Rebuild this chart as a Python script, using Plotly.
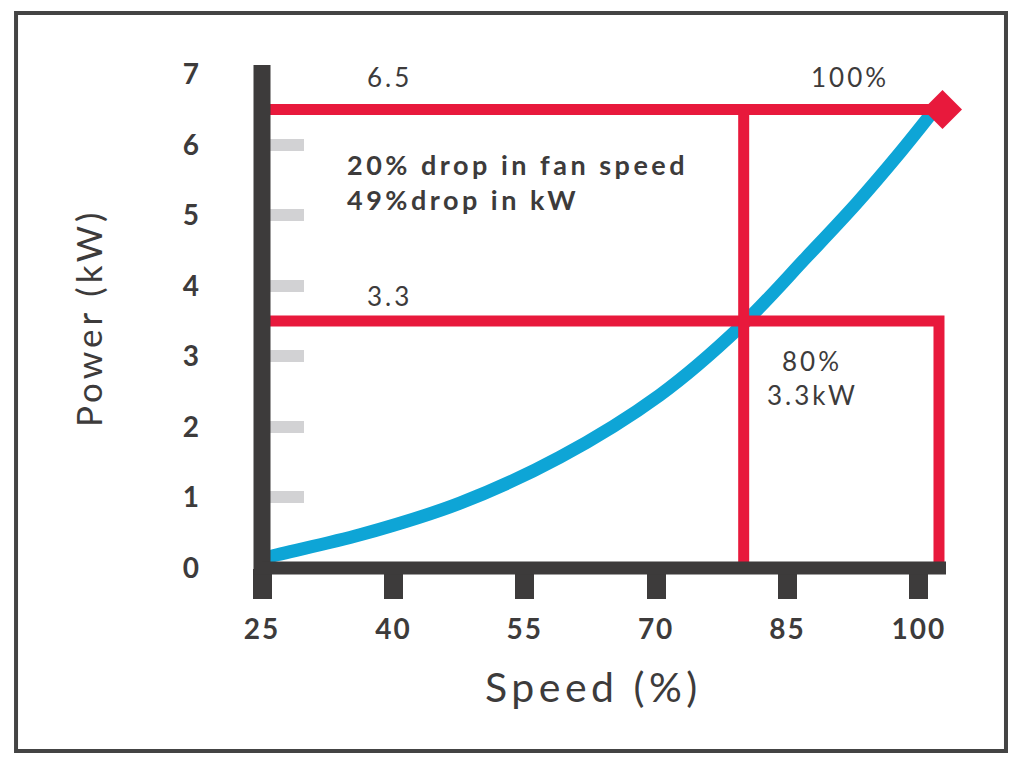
import plotly.graph_objects as go

# fan speed (%) vs power (kW) curve
speed = [25.0, 25.9, 36.2, 47.6, 59.0, 70.4, 79.6, 87.2, 92.9, 97.8, 101.3]
power = [0.12, 0.16, 0.47, 0.92, 1.57, 2.45, 3.42, 4.41, 5.17, 5.88, 6.42]

x_ticks = [25, 40, 55, 70, 85, 100]
y_ticks = [0, 1, 2, 3, 4, 5, 6, 7]
y_minor = [1, 2, 3, 4, 5, 6]

full_power = 6.5      # red line at the top
reduced_power = 3.5   # red line through the 80% point (labelled 3.3)
reduced_speed = 80
full_speed = 102.3    # right red line, drawn a bit past 100
arrow_speed = 102.7

red = '#E8193C'
blue = '#0EA5D6'
dark = '#3D3B3B'
font = 'Lato'


def spaced(text, px):
    return f'<span style="letter-spacing:{px}px">{text}</span>'


fig = go.Figure()

fig.add_trace(go.Scatter(x=speed, y=power, mode='lines', line_shape='spline',
                         line=dict(color=blue, width=13), hoverinfo='skip'))

# red guide lines
fig.add_trace(go.Scatter(
    x=[x_ticks[0], full_speed, None, x_ticks[0], full_speed, full_speed, None, reduced_speed, reduced_speed],
    y=[full_power, full_power, None, reduced_power, reduced_power, 0, None, 0, full_power],
    mode='lines', line=dict(color=red, width=11), hoverinfo='skip'))
fig.add_trace(go.Scatter(x=[arrow_speed], y=[full_power], mode='markers', cliponaxis=False,
                         marker=dict(symbol='diamond', size=30, color=red), hoverinfo='skip'))

labels = [
    (39.6, 6.96, '6.5'),
    (92.1, 6.96, '100%'),
    (39.6, 3.86, '3.3'),
    (87.8, 2.93, '80%'),
    (87.8, 2.45, '3.3kW'),
]
for lx, ly, txt in labels:
    fig.add_annotation(x=lx, y=ly, text=spaced(txt, 3), showarrow=False,
                       font=dict(family=font, size=26, color=dark))

fig.add_annotation(x=34.5, y=5.47, xanchor='left', align='left', showarrow=False,
                   text=spaced('20% drop in fan speed', 3.5) + '<br>' + spaced('49%drop in kW', 3.5),
                   font=dict(family=font, size=27, color=dark, weight=700))

# axis titles
fig.add_annotation(xref='paper', yref='paper', x=0.485, y=-0.2346, xanchor='center', yanchor='middle',
                   showarrow=False, text=spaced('Speed (%)', 4.5),
                   font=dict(family=font, size=41, color=dark))
fig.add_annotation(xref='paper', yref='paper', x=-0.2544, y=0.497, xanchor='center', yanchor='middle',
                   showarrow=False, textangle=-90, text=spaced('Power (kW)', 4),
                   font=dict(family=font, size=35, color=dark))

# thick axis bars (paper coords so they are not clipped at the plot edge)
fig.add_shape(type='line', xref='paper', yref='paper', x0=0, x1=0, y0=-0.013, y1=1,
              line=dict(color=dark, width=17), layer='above')
fig.add_shape(type='line', xref='paper', yref='paper', x0=0, x1=1, y0=0, y1=0,
              line=dict(color=dark, width=13), layer='above')

# frame around the picture
fig.add_shape(type='rect', xref='paper', yref='paper', x0=-0.3596, x1=1.0877, y0=-0.3638, y1=1.1034,
              line=dict(color='#444444', width=4))

tick_font = dict(family=font, size=28, color=dark, weight=700)
fig.update_xaxes(range=[25, 103.1], showgrid=False, zeroline=False, showline=False,
                 tickvals=x_ticks, ticktext=[spaced(str(v), 2) for v in x_ticks],
                 ticks='outside', ticklen=30, tickwidth=19, tickcolor=dark,
                 ticklabelstandoff=6, tickfont=tick_font)
fig.update_yaxes(range=[0, 7.13], showgrid=False, zeroline=False, showline=False,
                 tickvals=y_ticks, ticks='', ticklabelstandoff=62,
                 minor=dict(tickvals=y_minor, ticks='inside', ticklen=42, tickwidth=12, tickcolor='#D2D2D4'),
                 tickfont=tick_font)

fig.update_layout(width=1024, height=770, showlegend=False,
                  margin=dict(l=254, r=86, t=57, b=210),
                  plot_bgcolor='white', paper_bgcolor='white')

fig.write_html("out.html")
